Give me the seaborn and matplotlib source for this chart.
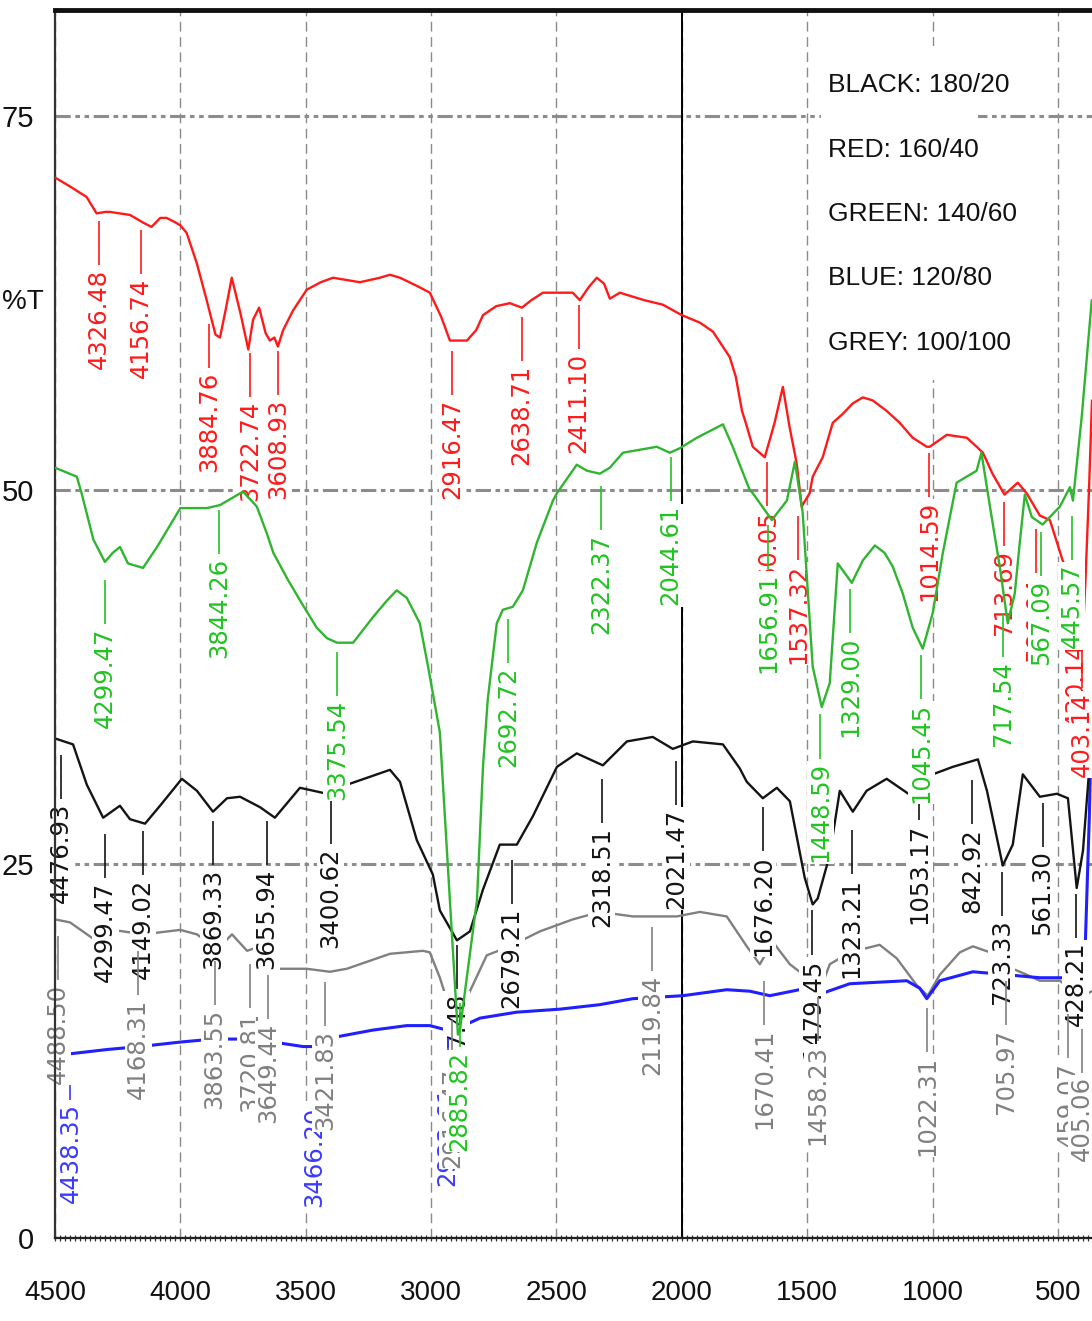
import numpy as np
import matplotlib
matplotlib.use("Agg")
import matplotlib.pyplot as plt
import seaborn as sns
from matplotlib.ticker import MultipleLocator, FixedLocator
from matplotlib.patches import Rectangle

# ---------------------------------------------------------------- spectra
black_wn = [4500, 4428, 4373, 4308, 4241, 4201, 4141, 4081, 3994, 3934, 3870, 3814, 3762,
            3682, 3623, 3523, 3415, 3336, 3164, 3124, 3057, 2993, 2965, 2897, 2845, 2793,
            2726, 2658, 2594, 2498, 2419, 2315, 2219, 2116, 2036, 1956, 1836, 1769, 1741,
            1677, 1621, 1569, 1510, 1478, 1458, 1410, 1370, 1318, 1263, 1183, 1079, 999,
            919, 819, 783, 720, 680, 640, 572, 504, 460, 425, 400, 373, 364]
black_T = [33.4, 33.0, 30.3, 28.1, 28.9, 28.0, 27.7, 28.9, 30.7, 29.9, 28.5, 29.4, 29.5,
           28.8, 28.1, 30.1, 29.7, 30.3, 31.3, 30.5, 26.6, 24.3, 21.9, 19.9, 20.5, 23.3,
           26.3, 26.3, 28.2, 31.5, 32.4, 31.6, 33.2, 33.5, 32.7, 33.2, 33.0, 31.4, 30.5,
           29.4, 30.1, 29.2, 24.1, 22.3, 22.7, 25.6, 29.9, 28.5, 29.9, 30.7, 29.5, 31.0,
           31.5, 32.0, 29.9, 24.9, 26.3, 31.0, 29.5, 29.7, 29.4, 23.4, 25.9, 31.8, 33.0]

red_wn = [4500, 4440, 4374, 4334, 4300, 4281, 4201, 4150, 4115, 4080, 4055, 4020, 4000,
          3975, 3935, 3895, 3860, 3842, 3820, 3795, 3760, 3729, 3710, 3686, 3660, 3643,
          3625, 3611, 3590, 3551, 3496, 3440, 3391, 3284, 3204, 3164, 3124, 3050, 3005,
          2960, 2925, 2857, 2820, 2793, 2740, 2686, 2638, 2600, 2554, 2500, 2435, 2407,
          2370, 2339, 2310, 2287, 2247, 2150, 2076, 2000, 1928, 1876, 1809, 1785, 1760,
          1745, 1717, 1690, 1669, 1630, 1597, 1570, 1542, 1522, 1490, 1478, 1438, 1398,
          1358, 1318, 1278, 1239, 1183, 1131, 1079, 1023, 1011, 943, 863, 824, 799, 761,
          713, 660, 625, 572, 532, 481, 460, 440, 415, 403, 390, 376, 364]
red_T = [70.9, 70.3, 69.6, 68.5, 68.6, 68.6, 68.4, 67.9, 67.6, 68.2, 68.2, 67.9, 67.7,
         67.2, 65.2, 62.7, 60.4, 60.2, 62.0, 64.2, 61.8, 59.4, 61.4, 62.2, 60.5, 60.0,
         60.2, 59.6, 60.7, 62.0, 63.4, 63.9, 64.2, 63.9, 64.2, 64.4, 64.2, 63.6, 63.2,
         61.6, 60.0, 60.0, 60.7, 61.7, 62.3, 62.5, 62.2, 62.7, 63.2, 63.2, 63.2, 62.7,
         63.6, 64.2, 63.8, 62.8, 63.2, 62.7, 62.4, 61.7, 61.2, 60.6, 58.9, 57.6, 55.3,
         54.5, 52.9, 52.5, 52.2, 54.5, 56.9, 54.2, 51.8, 48.9, 49.8, 50.9, 52.2, 54.5,
         55.1, 55.8, 56.2, 56.0, 55.3, 54.5, 53.5, 52.9, 52.9, 53.7, 53.5, 52.9, 52.5, 51.1,
         49.7, 50.5, 49.8, 48.3, 48.0, 45.3, 44.5, 43.5, 41.0, 39.5, 44.0, 50.0, 56.0]

green_wn = [4500, 4413, 4394, 4347, 4301, 4270, 4241, 4209, 4149, 4093, 4000, 3894, 3842,
            3750, 3695, 3655, 3629, 3571, 3511, 3456, 3415, 3375, 3311, 3232, 3177, 3137,
            3097, 3045, 3012, 2965, 2893, 2885, 2817, 2793, 2774, 2738, 2714, 2674, 2634,
            2578, 2514, 2498, 2419, 2379, 2327, 2287, 2235, 2100, 2048, 2008, 1940, 1836,
            1797, 1729, 1717, 1641, 1581, 1549, 1518, 1478, 1442, 1410, 1378, 1322, 1278,
            1230, 1191, 1159, 1119, 1079, 1039, 999, 959, 904, 864, 824, 805, 771, 732,
            700, 672, 652, 632, 604, 561, 492, 452, 440, 405, 365]
green_T = [51.5, 50.9, 49.8, 46.7, 45.2, 45.8, 46.2, 45.1, 44.8, 46.2, 48.8, 48.8, 49.0,
           49.9, 48.9, 47.1, 45.8, 44.0, 42.3, 40.8, 40.1, 39.8, 39.8, 41.5, 42.6, 43.3,
           42.8, 41.1, 38.2, 33.8, 13.6, 13.9, 22.6, 31.5, 36.0, 41.1, 42.0, 42.2, 43.3,
           46.5, 49.3, 49.8, 51.7, 51.3, 51.1, 51.5, 52.5, 52.9, 52.5, 52.8, 53.5, 54.4,
           52.9, 50.0, 49.8, 48.0, 49.3, 51.9, 48.5, 38.2, 35.5, 37.1, 45.1, 43.8, 45.3,
           46.3, 45.8, 44.9, 43.1, 40.8, 39.4, 41.8, 45.8, 50.5, 50.9, 51.3, 52.5, 48.9,
           44.9, 41.1, 43.1, 46.5, 49.7, 48.2, 47.7, 48.9, 50.2, 49.3, 54.9, 62.7]

blue_wn = [4500, 4448, 4293, 4161, 4000, 3870, 3762, 3629, 3511, 3456, 3392, 3232, 3097,
           3005, 2937, 2897, 2805, 2658, 2486, 2327, 2195, 1996, 1821, 1729, 1649, 1502,
           1450, 1330, 1103, 1051, 1023, 971, 839, 704, 572, 452, 425, 410, 400, 390, 375,
           364]
blue_T = [12.2, 12.3, 12.6, 12.8, 13.1, 13.3, 13.3, 13.1, 12.8, 12.8, 13.4, 13.9, 14.2,
          14.2, 13.9, 14.0, 14.7, 15.1, 15.3, 15.6, 16.0, 16.2, 16.6, 16.5, 16.2, 16.7,
          16.3, 17.0, 17.2, 16.7, 16.0, 17.2, 17.8, 17.6, 17.4, 17.4, 18.2, 17.0, 16.5,
          20.0, 28.0, 36.0]

grey_wn = [4500, 4440, 4347, 4269, 4149, 4000, 3934, 3854, 3794, 3734, 3682, 3643, 3615,
           3496, 3404, 3336, 3164, 3033, 3005, 2965, 2925, 2893, 2845, 2778, 2686, 2566,
           2435, 2327, 2195, 2020, 1928, 1821, 1741, 1689, 1637, 1569, 1530, 1490, 1450,
           1410, 1330, 1211, 1143, 1063, 1019, 971, 891, 839, 771, 732, 704, 680, 624,
           572, 492, 440, 400, 364]
grey_T = [21.3, 21.1, 20.0, 20.6, 20.3, 20.6, 20.3, 19.3, 20.3, 19.2, 19.5, 18.6, 18.0,
          18.0, 17.8, 18.0, 19.0, 19.2, 19.1, 17.4, 15.3, 14.8, 16.5, 18.9, 19.5, 20.5,
          21.3, 21.8, 21.5, 21.5, 21.8, 21.5, 19.5, 18.3, 19.8, 18.3, 17.8, 16.9, 16.5,
          18.3, 19.1, 19.6, 18.7, 16.9, 16.2, 17.6, 19.1, 19.5, 19.1, 17.6, 16.9, 18.0,
          17.6, 17.2, 17.2, 16.5, 16.2, 16.5]

# ------------------------------------------------------------ peak labels
black_peaks = [4476.93, 4299.47, 4149.02, 3869.33, 3655.94, 3400.62, 2897.48, 2679.21,
               2318.51, 2021.47, 1676.20, 1479.45, 1323.21, 1053.17, 842.92, 723.33,
               561.30, 428.21]
red_peaks = [4326.48, 4156.74, 3884.76, 3722.74, 3608.93, 2916.47, 2638.71, 2411.10,
             1660.05, 1537.32, 1014.59, 713.69, 586.94, 430.14, 403.14]
green_peaks = [4299.47, 3844.26, 3375.54, 2885.82, 2692.72, 2322.37, 2044.61, 1656.91,
               1448.59, 1329.00, 1045.45, 717.54, 567.09, 445.57]
blue_peaks = [4438.35, 3466.20, 2933.61]
grey_peaks = [4488.50, 4168.31, 3863.55, 3720.81, 3649.44, 3421.83, 2916.47, 2119.84,
              1670.41, 1458.23, 1022.31, 705.97, 459.07, 405.06]

# %T level at which each label's text starts (label layout)
black_label_top = [29.1, 23.8, 24.0, 24.7, 24.7, 26.1, 16.4, 22.1, 27.5, 28.7, 25.6, 18.7,
                   24.1, 27.7, 27.4, 21.3, 25.9, 19.8]
red_label_top = [64.8, 64.2, 57.9, 56.0, 56.1, 56.1, 58.4, 59.2, 48.7, 45.1, 49.3, 46.0,
                 44.2, 39.8, 36.5]
green_label_top = [40.8, 45.5, 36.0, 12.5, 38.2, 47.1, 49.0, 44.5, 31.8, 40.2, 35.8, 38.6,
                   44.0, 45.1]
blue_label_top = [9.0, 8.8, 10.2]
grey_label_top = [17.0, 16.0, 15.3, 15.1, 14.4, 13.9, 11.4, 17.6, 14.0, 12.9, 12.2, 14.0,
                  11.8, 10.8]

legend_lines = ["BLACK: 180/20", "RED: 160/40", "GREEN: 140/60", "BLUE: 120/80",
                "GREY: 100/100"]
x_ticks = [4500, 4000, 3500, 3000, 2500, 2000, 1500, 1000, 500]
y_ticks = [0, 25, 50, 75]

# ----------------------------------------------------------------- styling
sns.set_style("white")
plt.rcParams["font.family"] = ["Liberation Sans", "DejaVu Sans"]

C_BLACK, C_RED, C_GREEN, C_BLUE, C_GREY = "#141414", "#ff1a1a", "#2fb52f", "#1f1fff", "#808080"
L_GREEN, L_BLUE = "#22c322", "#3a3aff"
X_MIN, X_MAX = 4500, 364

fig = plt.figure(figsize=(10.92, 13.21), dpi=100)
ax = fig.add_axes([55 / 1092, 83 / 1321, 1037 / 1092, 1228 / 1321])
ax.set_xlim(X_MIN, X_MAX)
ax.set_ylim(0, 82.1)

# grid: dashed verticals, dash-dot-dot horizontals, solid line at 2000
ax.set_axisbelow(True)
ax.xaxis.set_major_locator(FixedLocator(x_ticks))
ax.xaxis.set_minor_locator(MultipleLocator(100))
ax.yaxis.set_major_locator(FixedLocator(y_ticks))
ax.yaxis.set_minor_locator(MultipleLocator(5))
ax.grid(axis="x", which="major", color="#8a8a8a", lw=1.0, ls=(0, (7, 4)))
ax.grid(axis="y", which="major", color="#8c8c8c", lw=2.2, ls=(0, (5, 1.5, 1.5, 1.5, 1.5, 1.5)))
ax.axvline(2000, color="black", lw=1.4, zorder=0.6)

ax.spines["right"].set_visible(False)
ax.spines["top"].set_linewidth(3.5)
ax.spines["top"].set_color("#111111")
ax.spines["left"].set_linewidth(1.6)
ax.spines["left"].set_color("#333333")
ax.spines["bottom"].set_linewidth(1.6)
ax.spines["bottom"].set_color("#222222")

ax.tick_params(axis="x", which="major", direction="out", length=18, width=1.2,
               pad=12, labelsize=20, colors="#111111")
ax.tick_params(axis="x", which="minor", direction="out", length=8, width=1.0, colors="#222222")
ax.tick_params(axis="y", which="major", direction="out", length=12, width=2.6,
               pad=3, labelsize=21, colors="#111111")
ax.tick_params(axis="y", which="minor", direction="out", length=6, width=2.2, colors="#222222")

# fine tick comb along the wavenumber axis
comb = ax.secondary_xaxis("bottom")
comb.xaxis.set_major_locator(MultipleLocator(20))
comb.tick_params(axis="x", which="major", direction="inout", length=5, width=0.9,
                 labelbottom=False, colors="#333333")
comb.spines["bottom"].set_visible(False)

ax.set_xlabel("")
ax.set_ylabel("")
ax.text(-0.031, 62.6, "%T", transform=ax.get_yaxis_transform(), ha="center", va="center",
        fontsize=20, color="#111111")

# ------------------------------------------------------------------ curves
series = [
    (grey_wn, grey_T, C_GREY, 1.7, 1.0),
    (blue_wn, blue_T, C_BLUE, 2.2, 1.05),
    (black_wn, black_T, C_BLACK, 1.7, 1.1),
    (red_wn, red_T, C_RED, 1.7, 3.0),
    (green_wn, green_T, C_GREEN, 1.7, 5.0),
]
for wn, t, col, lw, z in series:
    sns.lineplot(x=wn, y=t, color=col, lw=lw, ax=ax, sort=False, estimator=None,
                 zorder=z, legend=False)


def peak_labels(values, tops, color, z):
    for v, top in zip(values, tops):
        xt = max(v, 403)  # keep labels at the right edge inside the frame
        ax.plot([xt, xt], [top + 0.25, top + 3.2], color=color, lw=1.2, zorder=z,
                solid_capstyle="butt")
        ax.text(xt, top, f"{v:.2f}", rotation=90, ha="center", va="top", color=color,
                family="DejaVu Sans", fontsize=17.5, zorder=z,
                bbox=dict(boxstyle="square,pad=0.06", fc="white", ec="none"))


peak_labels(black_peaks, black_label_top, C_BLACK, 2.0)
peak_labels(blue_peaks, blue_label_top, L_BLUE, 2.1)
peak_labels(grey_peaks, grey_label_top, C_GREY, 2.2)
peak_labels(red_peaks, red_label_top, C_RED, 4.0)
peak_labels(green_peaks, green_label_top, L_GREEN, 6.0)

# sample key in the upper right
ax.add_patch(Rectangle((0.739, 0.699), 0.151, 0.272, transform=ax.transAxes,
                       fc="white", ec="none", zorder=0.7))
for i, line in enumerate(legend_lines):
    ax.text(0.7454, 0.9389 - i * 0.0525, line, transform=ax.transAxes, ha="left",
            va="center", fontsize=19, color="#111111", zorder=0.8)

fig.savefig("out.png", dpi=100)
